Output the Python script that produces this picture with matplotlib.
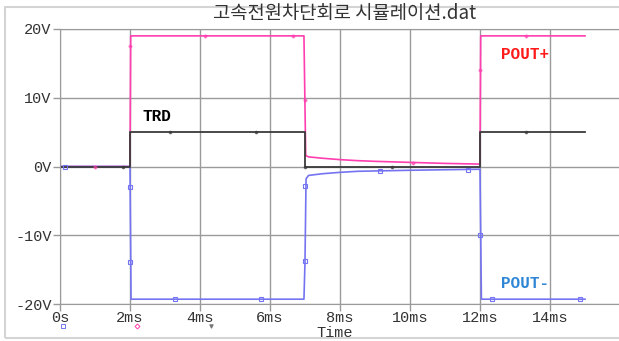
import matplotlib.pyplot as plt
from matplotlib.patches import Rectangle
from matplotlib.lines import Line2D

# transient waveforms, time in ms
trd_t = [0, 2, 2, 7, 7, 12, 12, 15]
trd_v = [0, 0, 5, 5, 0, 0, 5, 5]

pout_p_t = [0, 2, 2.02, 6.97, 7.02, 7.1, 7.5, 8, 8.5, 9, 10, 11, 12, 12.02, 15]
pout_p_v = [0, 0, 19.0, 19.0, 1.6, 1.4, 1.2, 1.0, 0.85, 0.75, 0.6, 0.45, 0.35, 19.0, 19.0]

pout_n_t = [0, 2, 2.03, 6.97, 7.0, 7.03, 7.1, 7.5, 8, 8.5, 9, 10, 11, 12, 12.04, 15]
pout_n_v = [0, 0, -19.3, -19.3, -13.8, -1.8, -1.3, -1.05, -0.85, -0.7, -0.65, -0.55, -0.47, -0.4, -19.3, -19.3]

# sparse data-point symbols along each trace
trd_mk_t = [1.8, 3.15, 5.6, 7.0, 9.5, 13.3]
trd_mk_v = [0, 5, 5, 0, 0, 5]
pout_p_mk_t = [1.0, 2.0, 4.15, 6.65, 7.0, 10.1, 12.0, 13.3]
pout_p_mk_v = [0, 17.5, 19.0, 19.0, 9.7, 0.55, 14.0, 19.0]
pout_n_mk_t = [0.15, 2.0, 2.0, 3.3, 5.75, 7.0, 7.0, 9.15, 11.65, 12.0, 12.35, 14.85]
pout_n_mk_v = [0, -3.0, -13.9, -19.3, -19.3, -2.8, -13.8, -0.7, -0.45, -9.9, -19.3, -19.3]

x_ticks = [0, 2, 4, 6, 8, 10, 12, 14]
x_labels = ['0s', '2ms', '4ms', '6ms', '8ms', '10ms', '12ms', '14ms']
y_ticks = [-20, -10, 0, 10, 20]
y_labels = ['-20V', '-10V', '0V', '10V', '20V']

W, H = 619, 341
c_pos = '#ff3eb0'
c_neg = '#7474f2'
c_trd = '#3a3a3a'
grid_c = '#9a9a9a'
mono = ['Liberation Mono', 'DejaVu Sans Mono']

fig = plt.figure(figsize=(W / 100, H / 100), dpi=100)
fig.patches.append(Rectangle((5 / W, 1 - 338 / H), 1.2, (338 - 7) / H,
                             transform=fig.transFigure, fill=False,
                             edgecolor='#d4d4d4', linewidth=1.5))

ax = fig.add_axes([60 / W, 1 - 304 / H, (621 - 60) / W, (304 - 29) / H])
ax.set_xlim(0, (621 - 60) / 35)
ax.set_ylim(-20, 20)

ax.plot(pout_p_t, pout_p_v, color=c_pos, lw=1.2)
ax.plot(pout_n_t, pout_n_v, color=c_neg, lw=1.2)
ax.plot(trd_t, trd_v, color=c_trd, lw=1.3)
ax.plot(pout_p_mk_t, pout_p_mk_v, ls='none', marker='D', ms=1.6,
        color=c_pos, alpha=0.6)
ax.plot(pout_n_mk_t, pout_n_mk_v, ls='none', marker='s', ms=3.2,
        mfc='none', mec=c_neg, mew=0.8)
ax.plot(trd_mk_t, trd_mk_v, ls='none', marker='o', ms=1.6, color=c_trd,
        alpha=0.7)

ax.set_xticks(x_ticks)
ax.set_xticklabels(x_labels)
ax.set_yticks(y_ticks)
ax.set_yticklabels(y_labels)
ax.grid(True, color=grid_c, lw=1.0)
ax.set_axisbelow(True)
for s in ax.spines.values():
    s.set_color(grid_c)
ax.tick_params(colors=grid_c, length=5, width=1.0, labelcolor='#333333',
               labelsize=11, pad=1)
ax.tick_params(axis='x', pad=0)
for lbl in ax.get_xticklabels() + ax.get_yticklabels():
    lbl.set_family(mono)

ax.text(2.35, 6.6, 'TRD', color='black', fontsize=11.5, fontweight='bold',
        family=mono)
ax.text(13.3, 15.6, 'POUT+', color='#ff1a1a', fontsize=11.5,
        fontweight='bold', family=mono, ha='center')
ax.text(13.3, -17.6, 'POUT-', color='#2f86d6', fontsize=11.5,
        fontweight='bold', family=mono, ha='center')

fig.text(345 / W, 1 - 13 / H, '고속전원차단회로 시뮬레이션.dat', ha='center',
         va='center', fontsize=13.5, color='#333333',
         family=['Noto Sans CJK KR', 'DejaVu Sans'])
fig.text(335 / W, 1 - 333 / H, 'Time', ha='center', va='center',
         fontsize=11, color='#333333', family=mono)

# probe symbols under the time axis
for px, mk, col in [(63, 's', c_neg), (137, 'D', c_pos), (211, 'v', '#777777')]:
    fig.add_artist(Line2D([px / W], [1 - 326 / H], transform=fig.transFigure,
                          ls='none', marker=mk, ms=2.5, mfc='none' if mk != 'v' else col,
                          mec=col, mew=0.7))

fig.savefig('out.png', dpi=100)
